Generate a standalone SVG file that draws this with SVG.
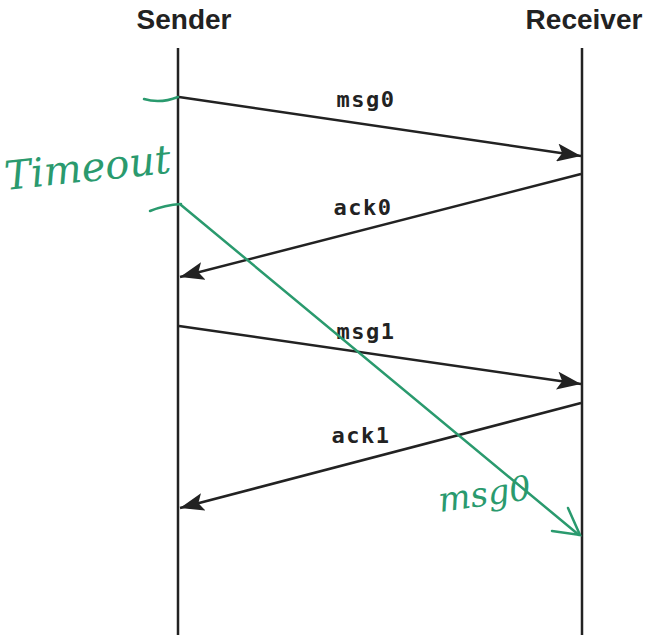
<svg xmlns="http://www.w3.org/2000/svg" width="650" height="635" viewBox="0 0 650 635">
<style>
.hdr{font-family:"Liberation Sans",Arial,sans-serif;font-weight:bold;font-size:28px;fill:#222;text-anchor:middle}
.lbl{font-family:"DejaVu Sans Mono","Liberation Mono",monospace;font-weight:bold;font-size:22px;letter-spacing:1.5px;fill:#222;text-anchor:middle}
.life{stroke:#222;stroke-width:2.5}
.msg{stroke:#222;stroke-width:2.5;fill:none;marker-end:url(#ah)}
.hand{stroke:#2a9a6e;stroke-width:2.5;fill:none;stroke-linecap:round}
.htxt{font-family:"DejaVu Serif","Liberation Serif",serif;font-style:italic;fill:#2a9a6e}
</style>
<defs>
<marker id="ah" viewBox="0 0 24 18" refX="24" refY="9" markerWidth="24" markerHeight="18" markerUnits="userSpaceOnUse" orient="auto">
<path d="M0,0 L24,9 L0,18 L5,9 Z" fill="#222"/>
</marker>
</defs>
<rect width="650" height="635" fill="#fff"/>
<g id="sender"><text class="hdr" x="184" y="29">Sender</text><line class="life" x1="178" y1="48" x2="178" y2="635"/></g>
<g id="receiver"><text class="hdr" x="584" y="29">Receiver</text><line class="life" x1="582" y1="48" x2="582" y2="635"/></g>
<g id="connectors">
<line class="msg" x1="179" y1="97" x2="581" y2="156"/>
<line class="msg" x1="581" y1="174" x2="180" y2="277"/>
<line class="msg" x1="179" y1="326" x2="581" y2="384"/>
<line class="msg" x1="581" y1="403" x2="180" y2="508"/>
</g>
<g id="labels">
<text class="lbl" x="366" y="107">msg0</text>
<text class="lbl" x="363" y="215">ack0</text>
<text class="lbl" x="366" y="339">msg1</text>
<text class="lbl" x="361" y="443">ack1</text>
</g>
<g id="annotation">
<path class="hand" d="M144,99 Q160,104 178,97"/>
<path class="hand" d="M150,211 Q165,205 181,204"/>
<path class="hand" d="M181,205 L579,535"/>
<path class="hand" d="M568,508 L580,535 L552,531"/>
<text class="htxt" x="6" y="190" font-size="40" transform="rotate(-6 6 190)">Timeout</text>
<text class="htxt" x="440" y="512" font-size="34" transform="rotate(-8 440 512)">msg0</text>
</g>
</svg>
